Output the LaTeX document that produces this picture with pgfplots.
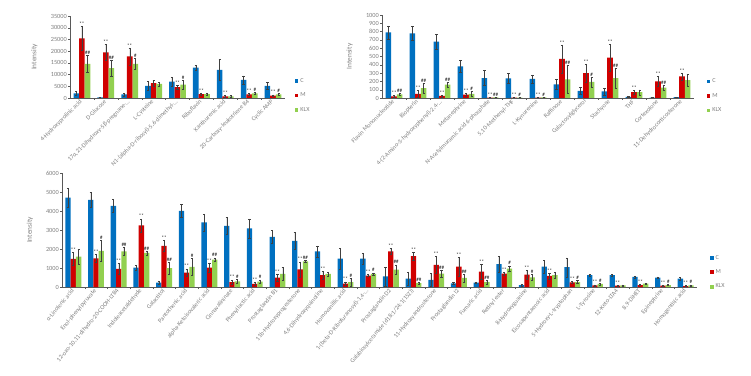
\documentclass[border=0pt]{standalone}
\usepackage{fontspec}
\setmainfont{Carlito}
\usepackage{pgfplots}
\usepackage{pgfplotstable}
\pgfplotsset{compat=1.18}
\definecolor{cB}{HTML}{0070C0}
\definecolor{cR}{HTML}{D00000}
\definecolor{cG}{HTML}{92D050}
\definecolor{txt}{HTML}{7F7F7F}
\definecolor{axl}{HTML}{595959}
\definecolor{errc}{HTML}{404040}

\expandafter\def\csname lab-s\endcsname{**}
\expandafter\def\csname lab-h\endcsname{\#}
\expandafter\def\csname lab-hh\endcsname{\#\#}
\expandafter\def\csname lab-n\endcsname{}
\newcommand\lab[1]{\csname lab-#1\endcsname}

\pgfplotstableread{
x C Ce M Me Ml K Ke Kl
0 2000 900 25500 5200 s 14600 3600 hh
1 300 200 19500 3500 s 12700 3500 hh
2 1500 600 17800 3600 s 14600 2500 h
3 5200 2000 6300 1200 n 6000 900 n
4 7000 2000 4600 800 s 5700 1800 h
5 13000 1000 1700 500 s 1700 500 n
6 12000 4500 700 300 s 700 300 n
7 7700 1800 1600 400 s 2000 400 h
8 5200 1500 1000 400 s 1500 500 h
}\tA

\pgfplotstableread{
x C Ce M Me Ml K Ke Kl
0 790 80 20 10 s 45 15 hh
1 780 80 50 40 s 120 60 hh
2 680 90 25 10 s 160 30 hh
3 380 70 40 15 s 50 30 h
4 240 90 5 3 s 8 4 hh
5 235 60 5 3 s 5 3 h
6 230 50 5 3 s 8 4 h
7 165 60 470 170 s 225 170 hh
8 85 40 300 110 s 195 60 h
9 80 40 485 160 s 240 120 hh
10 15 5 70 25 s 70 30 n
11 5 3 200 60 s 125 30 hh
12 10 5 260 40 s 215 70 n
}\tB

\pgfplotstableread{
x C Ce M Me Ml K Ke Kl
0 4700 500 1480 350 s 1600 400 n
1 4590 400 1510 200 s 1900 550 h
2 4270 350 950 300 s 1880 200 hh
3 1020 150 3240 350 s 1800 100 hh
4 230 100 2160 300 s 990 300 hh
5 4010 350 760 200 s 1060 450 h
6 3400 450 1020 250 s 1440 100 hh
7 3220 450 260 120 s 300 100 h
8 3080 500 170 100 s 280 100 h
9 2640 350 490 200 s 690 350 n
10 2430 450 930 400 s 1350 50 hh
11 1870 300 630 200 s 690 100 n
12 1500 550 180 100 s 260 200 h
13 1500 300 600 50 s 690 60 h
14 560 500 1870 150 s 920 250 hh
15 440 350 1620 200 s 210 50 hh
16 370 350 1160 450 s 700 200 hh
17 190 50 1070 500 s 475 200 hh
18 230 50 810 400 s 260 100 hh
19 1200 400 700 100 s 970 150 h
20 100 50 650 250 s 510 150 h
21 1070 350 580 150 s 620 150 n
22 1040 500 250 50 s 260 80 h
23 630 50 90 30 s 160 40 h
24 620 40 70 20 s 90 30 n
25 530 50 100 30 s 180 30 n
26 490 50 70 20 s 100 30 h
27 440 80 50 20 s 90 30 h
}\tD

\pgfplotsset{
  panel/.style={
    scale only axis, ybar=0pt, ymin=0,
    axis x line*=bottom, axis y line*=left,
    axis line style={axl,-,line width=0.4pt},
    xtick=data,
    major x tick style={draw=none},
    minor x tick num=1,
    minor tick length=2pt,
    minor x tick style={axl},
    major tick length=2pt,
    ytick style={axl},
    tick align=outside,
    scaled y ticks=false,
    /pgf/number format/assume math mode=true,
    /pgf/number format/1000 sep={},
    yticklabel style={font=\fontsize{6.3}{7}\selectfont, text=txt, inner sep=1pt},
    xticklabel style={font=\fontsize{6.2}{7}\selectfont, text=txt, anchor=east, inner sep=1pt},
    ylabel=Intensity,
    ylabel style={font=\fontsize{7.3}{8}\selectfont, text=txt},
    legend image code/.code={\fill[##1] (0pt,-1.8pt) rectangle (3.6pt,1.8pt);},
    legend cell align=left,
    legend style={draw=none, fill=none, font=\fontsize{6.2}{7}\selectfont, text=txt,
      anchor=north west, row sep=5pt, inner sep=0pt,
      /tikz/every even column/.style={column sep=2pt}},
  },
  eb/.style={
    error bars/.cd, y dir=both, y explicit,
    error bar style={errc, line width=0.35pt},
    error mark options={rotate=90, mark size=1.1pt, errc, line width=0.35pt}},
  ann/.style={draw=none, fill=none, forget plot,
    nodes near coords={\lab{\pgfplotspointmeta}},
    point meta=explicit symbolic,
    every node near coord/.append style={font=\fontsize{5}{5}\selectfont, text=black, anchor=south, inner sep=0.6pt}},
}
\newcommand\legimgs{%
  \addlegendimage{fill=cB, draw=none}
  \addlegendimage{fill=cR, draw=none}
  \addlegendimage{fill=cG, draw=none}
  \legend{C,M,KLX}}
% #1 table, #2 bar width
\newcommand\bars[2]{%
  \addplot[fill=cB, draw=none, bar shift=-#2, eb] table[x=x, y=C, y error=Ce] {#1};
  \addplot[fill=cR, draw=none, bar shift=0pt, eb] table[x=x, y=M, y error=Me] {#1};
  \addplot[fill=cG, draw=none, bar shift=#2, eb] table[x=x, y=K, y error=Ke] {#1};
  \addplot[ann, bar shift=0pt] table[x=x, y expr=\thisrow{M}+\thisrow{Me}, meta=Ml] {#1};
  \addplot[ann, bar shift=#2] table[x=x, y expr=\thisrow{K}+\thisrow{Ke}, meta=Kl] {#1};
}

\begin{document}
\begin{tikzpicture}
\useasboundingbox (0,0) rectangle (751pt,375pt);

% Panel 1
\begin{axis}[panel, at={(70pt,277pt)}, anchor=south west,
  width=215pt, height=82pt, bar width=5.6pt,
  xmin=-0.5, xmax=8.5, ymax=35000, ytick={0,5000,...,35000},
  xticklabel style={rotate=45},
  xticklabels={{4-Hydroxyprolinic acid},{D-Glucose},{17α,21-Dihydroxy-5β-pregnane-…},{L-Cysteine},{N1-(alpha-D-ribosyl)-5,6-dimethyl-…},{Riboflavin},{Xanthurenic acid},{20-Carboxy-leukotriene B4},{Cyclic AMP}},
  ylabel style={at={(axis description cs:-0.135,0.5)}},
  legend style={at={(1.045,0.27)}},
]
\legimgs
\bars{\tA}{5.6pt}
\end{axis}

% Panel 2
\begin{axis}[panel, at={(382pt,277pt)}, anchor=south west,
  width=312pt, height=83pt, bar width=5.6pt,
  xmin=-0.5, xmax=12.5, ymax=1000, ytick={0,100,...,1000},
  xticklabel style={rotate=45},
  xticklabels={{Flavin Mononucleotide},{Biopterin},{4-(2-Amino-3-hydroxyphenyl)-2,4-…},{Metanephrine},{N-Acetylmuramic acid 6-phosphate},{5,10-Methenyl-THF},{L-Kynurenine},{Raffinose},{Galactosylglycerol},{Stachyose},{THF},{Cortexolone},{11-Dehydrocorticosterone}},
  ylabel style={at={(axis description cs:-0.082,0.5)}},
  legend style={at={(1.04,0.26)}},
]
\legimgs
\bars{\tB}{5.6pt}
\end{axis}

% Panel 3
\begin{axis}[panel, at={(62pt,88pt)}, anchor=south west,
  width=635pt, height=114pt, bar width=5.3pt,
  xmin=-0.5, xmax=27.5, ymax=6000, ytick={0,1000,...,6000},
  xticklabel style={rotate=50},
  xticklabels={{α-Linolenic acid},{Enol-phenylpyruvate},{12-oxo-10,11-dihydro-20-COOH-LTB4},{Indoleacetaldehyde},{Galactitol},{Pantothenic acid},{alpha-Ketoisovaleric acid},{Cinnavalininate},{Phenyllactic acid},{Prostaglandin B1},{11b-Hydroxyprogesterone},{4,6-Dihydroxyquinoline},{Homovanillic acid},{1-(beta-D-Ribofuranosyl)-1,4-…},{Prostaglandin D2},{Galabiosylceramide (d18:1/24:1(15Z))},{11-Hydroxyandrosterone},{Prostaglandin I2},{Fumaric acid},{Retinyl ester},{8-Hydroxyguanine},{Eicosapentaenoic acid},{5-Hydroxy-L-tryptophan},{L-Tyrosine},{12-Keto-LTA4},{8,9-DiHET},{Epinephrine},{Homogentisic acid}},
  ylabel style={at={(axis description cs:-0.04,0.5)}},
  legend style={at={(1.02,0.30)}},
]
\legimgs
\bars{\tD}{5.3pt}
\end{axis}
\end{tikzpicture}
\end{document}
